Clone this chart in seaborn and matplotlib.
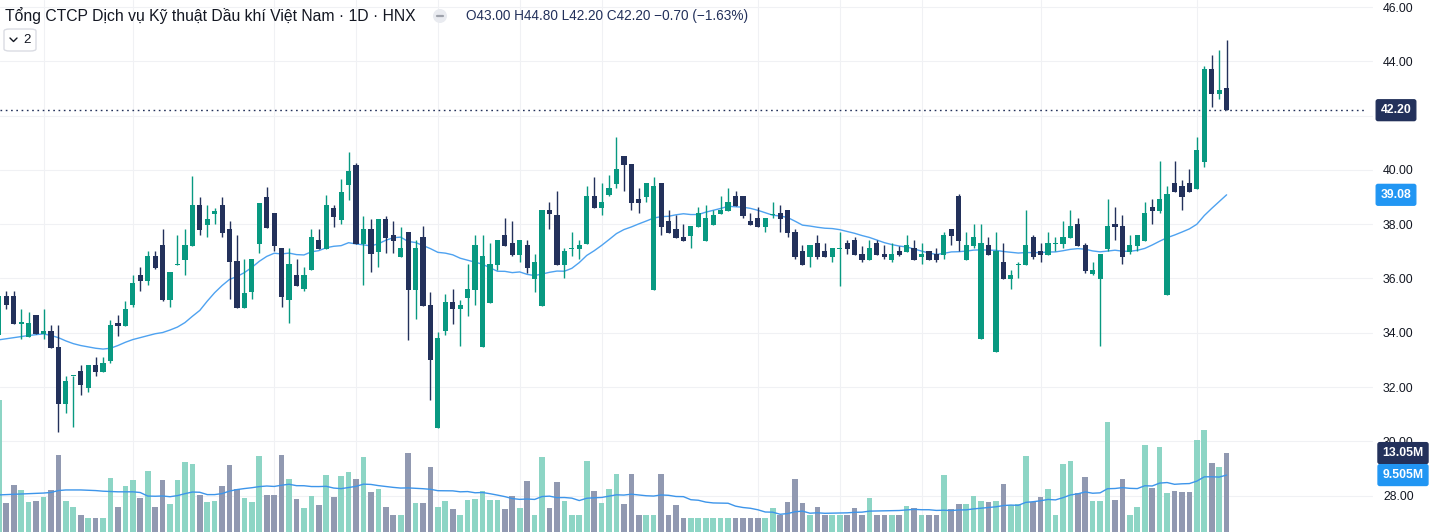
import numpy as np
import pandas as pd
import seaborn as sns
import matplotlib
matplotlib.use("Agg")
import matplotlib.pyplot as plt
import matplotlib.transforms as mtransforms
from matplotlib.patches import FancyBboxPatch, Ellipse
from matplotlib.lines import Line2D

sns.set_theme(style="white")
plt.rcParams['font.family'] = ['Liberation Sans', 'DejaVu Sans']

# ---------------- data ----------------
opens = [33.9, 35.36, 35.36, 34.33, 33.85, 34.66, 33.96, 34.07, 33.48, 31.38,
         32.39, 32.59, 31.97, 32.82, 32.56, 32.96, 34.36, 34.25, 35.02, 36.13,
         35.91, 36.83, 37.23, 35.21, 36.50, 36.68, 37.20, 38.71, 37.97, 38.38,
         38.71, 37.82, 36.65, 34.92, 35.50, 37.27, 39.00, 38.41, 37.12, 35.21,
         36.13, 35.61, 36.31, 37.42, 37.09, 38.60, 38.16, 39.44, 40.18, 37.27,
         37.82, 36.98, 38.19, 37.60, 36.79, 37.71, 35.58, 37.53, 35.03, 30.50,
         34.07, 35.14, 34.88, 35.28, 35.58, 33.48, 35.10, 36.50, 37.60, 37.31,
         36.87, 37.23, 35.98, 34.99, 38.52, 38.34, 36.50, 37.09, 37.09, 37.27,
         39.04, 38.60, 39.08, 39.48, 40.51, 40.22, 38.93, 39.00, 35.58, 39.52,
         38.12, 37.82, 37.53, 37.57, 37.90, 37.38, 37.97, 38.38, 38.49, 39.04,
         39.04, 38.12, 38.23, 37.90, 38.34, 38.41, 38.52, 37.71, 37.01, 36.79,
         37.31, 37.01, 36.79, 37.09, 37.31, 37.42, 36.90, 36.68, 37.31, 36.90,
         36.68, 37.01, 36.98, 37.12, 36.79, 37.01, 36.90, 36.87, 37.82, 39.04,
         36.68, 37.20, 33.77, 37.23, 33.29, 36.61, 35.99, 36.50, 36.50, 37.53,
         37.01, 36.87, 37.27, 37.27, 37.49, 38.00, 37.23, 36.17, 35.98, 37.09,
         38.00, 37.93, 36.98, 37.20, 37.38, 38.63, 38.49, 35.39, 39.52, 39.41,
         39.52, 39.30, 40.29, 43.72, 42.80, 43.00]
highs = [35.5, 35.54, 35.54, 34.88, 34.77, 34.66, 34.88, 34.29, 34.29, 32.41,
         32.41, 32.82, 32.82, 33.11, 33.11, 34.47, 34.66, 35.17, 36.13, 36.42,
         37.01, 37.01, 37.82, 36.24, 37.60, 37.82, 39.78, 39.00, 38.71, 38.60,
         39.00, 38.12, 37.60, 36.72, 36.72, 38.78, 39.37, 38.41, 37.12, 37.12,
         36.72, 36.42, 37.82, 37.82, 39.08, 38.71, 39.66, 40.66, 40.25, 38.30,
         38.19, 38.19, 38.30, 38.12, 37.90, 37.71, 37.42, 37.93, 35.50, 34.03,
         35.43, 35.61, 35.21, 36.53, 37.60, 37.60, 37.31, 37.42, 38.23, 38.12,
         37.42, 37.42, 36.90, 38.52, 38.82, 39.22, 37.12, 37.71, 37.42, 39.41,
         39.74, 39.52, 39.81, 41.21, 40.51, 40.22, 39.33, 39.52, 39.74, 39.52,
         38.52, 38.34, 38.00, 37.93, 38.63, 38.71, 38.52, 39.04, 39.33, 39.22,
         39.04, 38.41, 38.63, 38.23, 38.82, 38.71, 38.52, 37.82, 37.23, 37.23,
         37.60, 37.31, 37.12, 37.71, 37.42, 37.53, 37.20, 37.42, 37.42, 37.23,
         37.31, 37.20, 37.60, 37.42, 37.31, 37.01, 37.12, 37.71, 37.82, 39.11,
         37.71, 38.00, 38.00, 37.53, 37.71, 37.31, 36.31, 36.61, 38.52, 37.60,
         37.31, 37.71, 37.53, 38.12, 38.52, 38.23, 37.31, 36.61, 36.90, 38.93,
         38.63, 38.34, 37.60, 37.60, 38.82, 38.93, 40.33, 39.41, 40.33, 39.63,
         40.03, 41.21, 43.83, 44.23, 44.42, 44.80]
lows = [33.8, 34.88, 34.33, 33.77, 33.85, 33.96, 33.77, 33.44, 30.35, 31.05,
        30.53, 31.71, 31.82, 32.41, 32.56, 32.89, 33.88, 34.25, 34.95, 35.54,
        35.76, 36.35, 35.17, 34.95, 36.50, 36.13, 37.20, 37.60, 37.53, 38.00,
        37.53, 35.25, 34.92, 34.92, 35.25, 36.94, 37.86, 37.01, 34.95, 34.36,
        35.72, 35.54, 36.31, 37.09, 37.09, 37.90, 38.01, 38.89, 37.27, 35.76,
        36.24, 36.42, 36.94, 36.94, 36.79, 33.74, 34.51, 34.99, 31.53, 30.50,
        33.92, 34.33, 33.51, 34.62, 35.03, 33.48, 35.10, 36.31, 37.20, 36.83,
        36.61, 36.20, 35.50, 34.99, 37.82, 36.50, 36.02, 36.83, 36.72, 37.27,
        38.60, 38.34, 39.04, 39.33, 39.22, 38.52, 38.41, 38.82, 35.58, 37.60,
        37.68, 37.49, 37.38, 37.12, 37.90, 37.38, 37.97, 38.38, 38.49, 38.67,
        38.23, 37.97, 37.90, 37.71, 38.23, 37.71, 37.53, 36.72, 36.50, 36.42,
        36.72, 36.79, 36.61, 35.72, 36.90, 36.87, 36.61, 36.68, 36.87, 36.72,
        36.61, 36.83, 36.98, 36.68, 36.53, 36.68, 36.61, 36.72, 37.23, 37.01,
        36.68, 37.12, 33.77, 36.87, 33.29, 35.98, 35.61, 36.02, 36.50, 36.72,
        36.61, 36.87, 37.01, 37.12, 37.49, 37.20, 36.20, 36.13, 33.51, 37.01,
        37.42, 36.53, 36.90, 37.01, 37.38, 38.01, 38.41, 35.39, 39.19, 38.52,
        39.19, 39.30, 40.10, 42.32, 42.61, 42.20]
closes = [35.36, 35.02, 34.33, 34.37, 34.36, 33.96, 34.07, 33.44, 31.38, 32.23,
          32.41, 32.08, 32.82, 32.56, 32.89, 34.29, 34.25, 34.88, 35.83, 35.91,
          36.83, 36.39, 35.21, 36.24, 36.54, 37.23, 38.71, 37.79, 38.19, 38.49,
          37.68, 36.61, 34.92, 35.47, 36.72, 38.78, 37.86, 37.20, 35.32, 36.53,
          35.72, 36.13, 37.53, 37.09, 38.71, 38.27, 39.19, 39.96, 37.27, 37.82,
          36.90, 38.19, 37.49, 37.38, 37.12, 35.58, 37.12, 34.99, 33.00, 33.80,
          35.14, 34.88, 35.03, 35.61, 37.23, 36.83, 36.53, 37.42, 37.20, 36.87,
          37.42, 36.39, 36.61, 38.52, 38.38, 36.50, 37.01, 37.12, 37.23, 39.04,
          38.60, 38.82, 39.33, 40.03, 40.18, 38.78, 38.78, 39.52, 39.41, 37.90,
          37.68, 37.49, 37.38, 37.93, 38.41, 38.23, 38.34, 38.52, 38.82, 38.67,
          38.30, 37.97, 37.90, 38.23, 38.38, 38.19, 37.68, 36.79, 36.50, 37.23,
          36.79, 36.79, 37.12, 37.12, 37.09, 36.87, 36.68, 37.12, 36.87, 36.79,
          36.90, 36.87, 37.23, 36.68, 36.90, 36.68, 36.68, 37.60, 37.57, 37.38,
          37.23, 37.53, 37.31, 36.87, 37.01, 35.98, 36.13, 36.53, 37.23, 36.79,
          36.87, 37.31, 37.31, 37.53, 37.93, 37.20, 36.28, 36.31, 36.90, 37.93,
          37.90, 36.79, 37.23, 37.60, 38.41, 38.49, 38.93, 39.11, 39.19, 39.00,
          39.19, 40.73, 43.72, 42.80, 42.94, 42.20]
volumes_m = [21.6, 5.0, 7.9, 7.1, 5.2, 5.3, 6.0, 7.1, 12.7, 5.3,
             4.4, 3.0, 2.5, 2.5, 2.5, 9.0, 4.4, 7.7, 8.7, 5.8,
             10.2, 4.4, 8.7, 4.8, 8.7, 11.6, 11.3, 6.3, 5.2, 5.3,
             7.7, 11.1, 7.3, 5.8, 5.2, 12.6, 6.3, 6.3, 12.7, 8.9,
             5.6, 4.2, 6.1, 4.7, 9.5, 6.0, 9.4, 10.0, 8.9, 12.4,
             6.8, 7.3, 4.4, 3.0, 3.0, 13.1, 5.0, 5.0, 10.8, 4.4,
             5.3, 4.0, 3.0, 5.5, 5.6, 6.9, 5.5, 5.5, 4.0, 6.1,
             4.2, 8.5, 3.0, 12.4, 4.2, 8.4, 5.3, 3.0, 3.0, 11.8,
             6.9, 5.0, 7.3, 9.7, 4.8, 9.7, 3.0, 3.0, 3.0, 9.7,
             3.0, 4.7, 2.5, 2.5, 2.5, 2.5, 2.5, 2.5, 2.5, 2.5,
             2.5, 2.5, 2.5, 2.5, 4.2, 3.0, 5.2, 8.9, 5.0, 3.0,
             4.4, 3.0, 3.0, 3.0, 3.0, 4.2, 3.0, 5.8, 3.0, 3.0,
             3.0, 3.0, 4.5, 4.2, 3.0, 3.0, 3.0, 9.5, 4.0, 4.8,
             4.8, 6.1, 5.3, 5.2, 5.3, 8.1, 4.7, 4.8, 12.6, 5.2,
             6.0, 7.3, 3.0, 11.3, 11.8, 6.6, 9.2, 5.3, 5.3, 18.1,
             5.5, 8.9, 3.0, 4.4, 14.4, 7.4, 14.0, 6.6, 6.9, 6.8,
             6.8, 15.2, 16.8, 11.5, 10.8, 13.05]
# moving-average values before the 20-bar window is complete
price_ma_head = [33.74, 33.78, 33.82, 33.86, 33.90, 33.93, 33.96, 33.90, 33.82, 33.70,
                 33.60, 33.53, 33.48, 33.43, 33.40, 33.43, 33.53, 33.65, 33.75]
vol_ma_head = [6.3, 6.35, 6.4, 6.45, 6.5, 6.55, 6.6, 6.7, 7.0, 7.1,
               7.1, 7.1, 7.05, 7.0, 6.9, 6.85, 6.8, 6.8, 6.8]
grid_levels = [28, 30, 32, 34, 36, 38, 40, 42, 44, 46]
price_tick_labels = [28, 30, 32, 34, 36, 38, 40, 44, 46]   # 42.00 is hidden by the last-price tag
vgrid_bars = [6, 18, 37, 48, 59, 70, 81, 102, 113, 124, 140, 161]
title_text = "Tổng CTCP Dịch vụ Kỹ thuật Dầu khí Việt Nam · 1D · HNX"
ohlc_text = "O43.00 H44.80 L42.20 C42.20 −0.70 (−1.63%)"
last_close_label = "42.20"
ma_label = "39.08"
vol_label = "13.05M"
vol_ma_label = "9.505M"

# ---------------- derived ----------------
n = len(closes)
df = pd.DataFrame({"i": np.arange(n), "open": opens, "high": highs, "low": lows,
                   "close": closes, "vol": volumes_m})
df["up"] = df["close"] >= df["open"]
ma = df["close"].rolling(20).mean().to_numpy()
ma[:19] = price_ma_head
df["ma"] = ma
vma = df["vol"].rolling(20).mean().to_numpy()
vma[:19] = vol_ma_head
df["vma"] = vma

UP = "#089981"
DOWN = "#23315b"
VUP = "#8dd5c5"
VDOWN = "#9199b1"
BLUE = "#2196f3"
GRID = "#f0f1f4"
TXT = "#131722"

W, H = 1432, 532
fig = plt.figure(figsize=(W / 100, H / 100), dpi=100)
fig.patch.set_facecolor("white")
rect = [0, 0, 1365 / W, 1]
ax_v = fig.add_axes(rect)
ax_p = fig.add_axes(rect)
ax_p.patch.set_visible(False)

xlim = (0.15, 183.6)
for a in (ax_v, ax_p):
    a.set_xlim(*xlim)
    for s in a.spines.values():
        s.set_visible(False)
ax_p.set_ylim(26.66, 46.26)
ax_v.set_ylim(0.32, 86.1)

# grid (behind everything, on the volume axes)
hb = mtransforms.blended_transform_factory(fig.transFigure, ax_p.transData)
for t in grid_levels:
    ax_v.plot([0, 1372 / W], [t, t], transform=hb, color=GRID, lw=0.8, zorder=0,
              clip_on=False)
for g in vgrid_bars:
    ax_v.axvline(g, color=GRID, lw=0.8, zorder=0)

# volume
ax_v.bar(df["i"], df["vol"], width=0.76,
         color=np.where(df["up"], VUP, VDOWN), linewidth=0, zorder=2)
sns.lineplot(data=df, x="i", y="vma", ax=ax_v, color="#3d95ea", lw=1.0,
             legend=False, zorder=3)

# candles
cols = np.where(df["up"], UP, DOWN)
ax_p.vlines(df["i"], df["low"], df["high"], colors=cols, lw=1.0, zorder=3)
bottom = np.minimum(df["open"], df["close"])
height = np.maximum(np.abs(df["close"] - df["open"]), 0.05)
ax_p.bar(df["i"], height, bottom=bottom, width=0.7, color=cols, linewidth=0, zorder=4)
sns.lineplot(data=df, x="i", y="ma", ax=ax_p, color="#4ea2f0", lw=1.0,
             legend=False, zorder=2)

# last price dotted line
ax_p.axhline(closes[-1], color=DOWN, lw=1.0, ls=(0, (1.2, 2.6)), zorder=1)

# axes ticks
ax_v.set_xticks([]); ax_v.set_yticks([])
ax_v.set_xlabel(""); ax_v.set_ylabel("")
ax_p.set_xticks([]); ax_p.set_xlabel(""); ax_p.set_ylabel("")
ax_p.yaxis.tick_right()
ax_p.set_yticks(price_tick_labels)
ax_p.set_yticklabels([f"{t:.2f}" for t in price_tick_labels])
ax_p.tick_params(axis="y", length=0, pad=13, labelsize=8.8, labelcolor=TXT)

# right-side value labels
xc = 1396 / W
tp = mtransforms.blended_transform_factory(fig.transFigure, ax_p.transData)
tv = mtransforms.blended_transform_factory(fig.transFigure, ax_v.transData)

def tag(y, s, col, trans, x=xc):
    fig.text(x, y, s, transform=trans, ha="center", va="center", color="white",
             fontsize=8.8, fontweight="bold", zorder=10,
             bbox=dict(boxstyle="round,pad=0.36,rounding_size=0.15", fc=col, ec=col))

tag(closes[-1], last_close_label, DOWN, tp)
tag(ma[-1], ma_label, BLUE, tp)
tag(volumes_m[-1], vol_label, DOWN, tv, x=1403 / W)
tag(vma[-1], vol_ma_label, BLUE, tv, x=1403 / W)

# header texts
fig.text(5 / W, 1 - 16 / H, title_text, ha="left", va="center", fontsize=11.3, color=TXT)
fig.text(466 / W, 1 - 16 / H, ohlc_text, ha="left", va="center", fontsize=9.8, color=DOWN)
fig.patches.append(Ellipse((440 / W, 1 - 16 / H), 14 / W, 14 / H, transform=fig.transFigure,
                           fc="#e9ebf0", ec="none"))
fig.lines.append(Line2D([437 / W, 443 / W], [1 - 16 / H, 1 - 16 / H], transform=fig.transFigure,
                        color="#9ea2ab", lw=1.6))
fig.patches.append(FancyBboxPatch((4 / W, 1 - 51 / H), 32 / W, 22 / H,
                                  boxstyle="round,pad=0,rounding_size=0.004",
                                  transform=fig.transFigure, fc="white", ec="#dadce3", lw=1.0))
fig.lines.append(Line2D([10 / W, 13.5 / W, 17 / W], [1 - 38 / H, 1 - 41.5 / H, 1 - 38 / H],
                        transform=fig.transFigure, color=TXT, lw=1.0))
fig.text(27 / W, 1 - 40 / H, "2", ha="center", va="center", fontsize=9.5, color=TXT)

fig.savefig("out.png", dpi=100, facecolor="white")
